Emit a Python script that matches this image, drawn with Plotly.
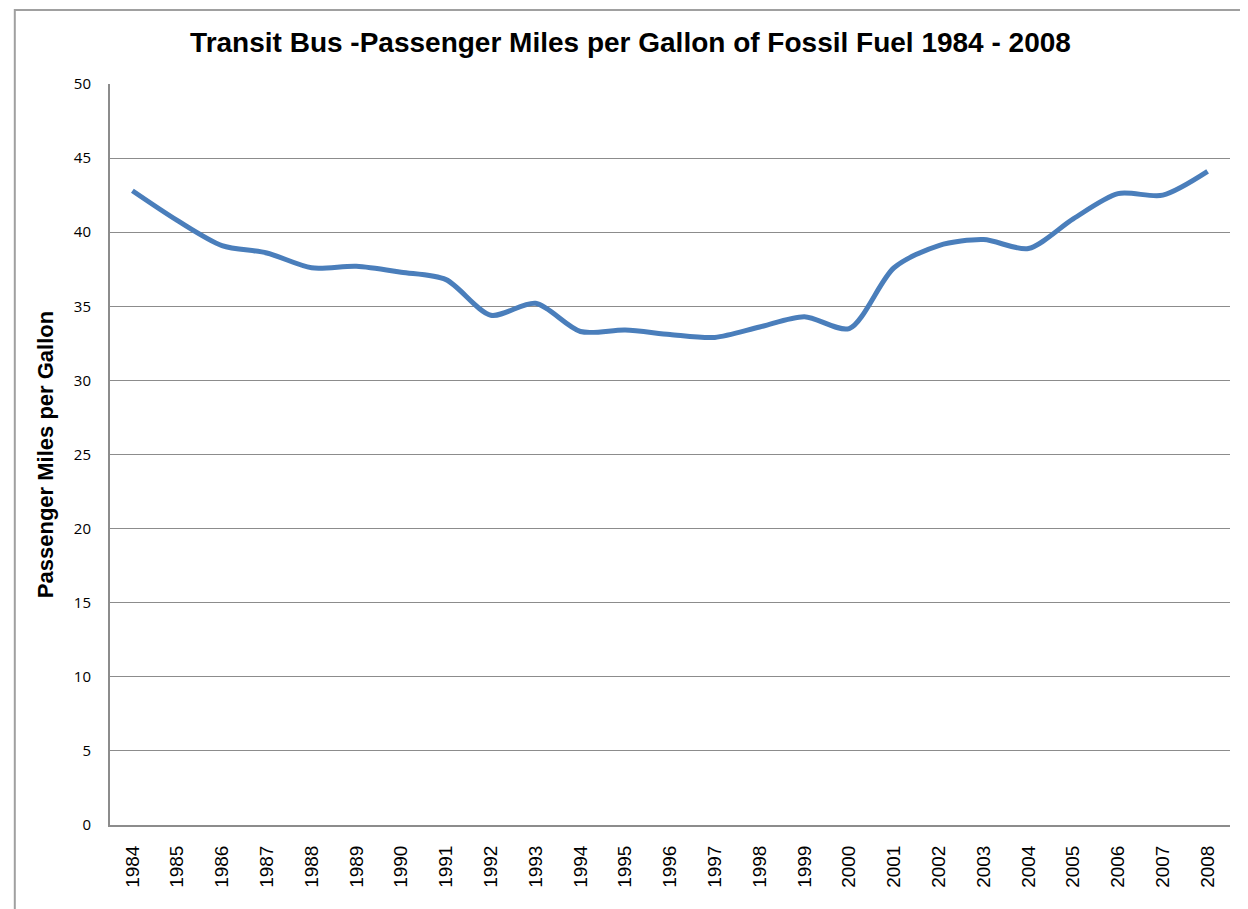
import plotly.graph_objects as go

years = [str(y) for y in range(1984, 2009)]
mpg = [42.8, 40.8, 39.1, 38.6, 37.6, 37.7, 37.3, 36.8, 34.4, 35.2,
       33.3, 33.4, 33.1, 32.9, 33.6, 34.3, 33.5, 37.6, 39.1, 39.5,
       38.9, 40.9, 42.6, 42.5, 44.1]

GRID = "#8c8c8c"

fig = go.Figure()

fig.add_trace(
    go.Scatter(
        x=years,
        y=mpg,
        mode="lines",
        line=dict(color="#4a7ebb", width=5, shape="spline", smoothing=0.8),
        showlegend=False
    )
)

# page has an 8px body margin, so the figure is shrunk by that much
fig.update_layout(
    width=1240,
    height=901,
    plot_bgcolor="white",
    paper_bgcolor="white",
    margin=dict(l=102, r=18, t=76, b=84),
    title=dict(
        text="<b>Transit Bus -Passenger Miles per Gallon of Fossil Fuel 1984 - 2008</b>",
        x=0.502,
        xanchor="center",
        y=0.962,
        yanchor="middle",
        font=dict(family="Liberation Sans, Arial", size=28, color="black")
    ),
    shapes=[
        dict(type="rect", xref="paper", yref="paper",
             x0=-0.085, x1=1.05, y0=-0.2, y1=1.1,
             line=dict(color="#a0a0a0", width=2))
    ]
)

fig.update_xaxes(
    type="category",
    range=[-0.5, 24.5],
    tickangle=-90,
    tickfont=dict(family="Liberation Sans, Arial", size=19, color="black"),
    showline=True,
    linecolor=GRID,
    linewidth=2,
    showgrid=False,
    ticks="",
    ticklabelstandoff=11
)

fig.update_yaxes(
    range=[0, 50],
    dtick=5,
    tickfont=dict(family="Open Sans, Liberation Sans", size=15, color="black"),
    title=dict(
        text="<b>Passenger Miles per Gallon</b>",
        font=dict(family="Liberation Sans, Arial", size=22, color="black"),
        standoff=14
    ),
    showline=True,
    linecolor=GRID,
    linewidth=2,
    showgrid=True,
    gridcolor=GRID,
    gridwidth=1,
    zeroline=False,
    ticks="",
    ticklabelstandoff=14
)

fig.write_html("out.html")
